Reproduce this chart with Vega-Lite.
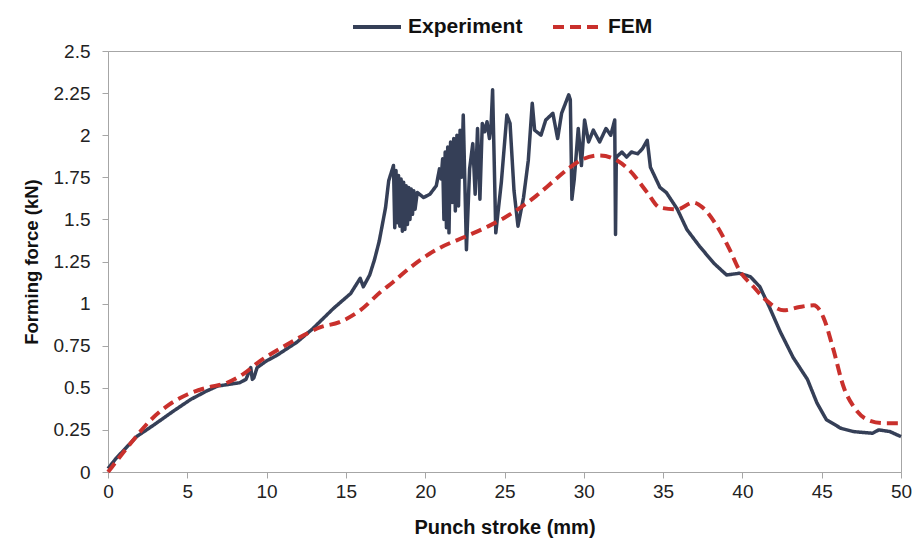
{
  "$schema": "https://vega.github.io/schema/vega-lite/v6.json",
  "autosize": "none",
  "width": 793,
  "height": 421,
  "padding": {"left": 108, "top": 51, "right": 13, "bottom": 80},
  "background": "white",
  "config": {
    "view": {"stroke": "#a6a6a6", "strokeWidth": 1},
    "font": "Liberation Sans"
  },
  "datasets": {
    "exp": [
      {"x":0,"y":0.02},{"x":0.5,"y":0.08},{"x":1.0,"y":0.13},{"x":1.8,"y":0.21},{"x":2.9,"y":0.28},{"x":4.1,"y":0.36},{"x":5.2,"y":0.43},{"x":6.2,"y":0.48},{"x":6.9,"y":0.51},{"x":7.6,"y":0.52},{"x":8.3,"y":0.53},{"x":8.7,"y":0.55},{"x":9.0,"y":0.62},{"x":9.1,"y":0.55},{"x":9.2,"y":0.56},{"x":9.4,"y":0.62},{"x":10.0,"y":0.66},{"x":10.6,"y":0.69},{"x":11.9,"y":0.77},{"x":12.9,"y":0.85},{"x":14.2,"y":0.97},{"x":15.3,"y":1.06},{"x":15.9,"y":1.15},{"x":16.1,"y":1.10},{"x":16.5,"y":1.17},{"x":16.8,"y":1.26},{"x":17.1,"y":1.37},{"x":17.5,"y":1.57},{"x":17.7,"y":1.73},{"x":18.0,"y":1.82},{"x":18.08,"y":1.45},{"x":18.16,"y":1.79},{"x":18.24,"y":1.48},{"x":18.32,"y":1.76},{"x":18.4,"y":1.46},{"x":18.48,"y":1.74},{"x":18.56,"y":1.43},{"x":18.64,"y":1.72},{"x":18.72,"y":1.44},{"x":18.8,"y":1.70},{"x":18.88,"y":1.47},{"x":18.96,"y":1.69},{"x":19.04,"y":1.50},{"x":19.12,"y":1.68},{"x":19.2,"y":1.53},{"x":19.28,"y":1.67},{"x":19.36,"y":1.56},{"x":19.5,"y":1.66},{"x":19.9,"y":1.63},{"x":20.3,"y":1.65},{"x":20.7,"y":1.70},{"x":20.9,"y":1.80},{"x":21.0,"y":1.74},{"x":21.1,"y":1.86},{"x":21.18,"y":1.50},{"x":21.26,"y":1.90},{"x":21.34,"y":1.45},{"x":21.42,"y":1.93},{"x":21.5,"y":1.42},{"x":21.6,"y":1.96},{"x":21.7,"y":1.60},{"x":21.8,"y":1.98},{"x":21.9,"y":1.55},{"x":22.0,"y":2.0},{"x":22.1,"y":1.58},{"x":22.2,"y":2.03},{"x":22.3,"y":1.75},{"x":22.4,"y":2.12},{"x":22.6,"y":1.32},{"x":22.8,"y":1.80},{"x":23.0,"y":1.95},{"x":23.15,"y":1.65},{"x":23.3,"y":2.04},{"x":23.45,"y":1.62},{"x":23.6,"y":2.07},{"x":23.75,"y":2.02},{"x":23.9,"y":2.08},{"x":24.05,"y":1.98},{"x":24.15,"y":2.05},{"x":24.25,"y":2.27},{"x":24.35,"y":1.85},{"x":24.45,"y":1.42},{"x":24.8,"y":1.72},{"x":25.15,"y":2.12},{"x":25.35,"y":2.07},{"x":25.6,"y":1.67},{"x":25.85,"y":1.46},{"x":26.2,"y":1.63},{"x":26.5,"y":1.85},{"x":26.75,"y":2.19},{"x":26.9,"y":2.03},{"x":27.3,"y":2.0},{"x":27.6,"y":2.09},{"x":28.05,"y":2.13},{"x":28.35,"y":1.98},{"x":28.6,"y":2.13},{"x":29.05,"y":2.24},{"x":29.15,"y":2.21},{"x":29.25,"y":1.62},{"x":29.4,"y":1.74},{"x":29.65,"y":2.04},{"x":29.85,"y":1.82},{"x":30.05,"y":2.09},{"x":30.3,"y":1.96},{"x":30.6,"y":2.03},{"x":31.0,"y":1.96},{"x":31.4,"y":2.04},{"x":31.7,"y":2.0},{"x":31.95,"y":2.09},{"x":32.0,"y":1.41},{"x":32.05,"y":1.87},{"x":32.4,"y":1.90},{"x":32.7,"y":1.87},{"x":33.0,"y":1.90},{"x":33.4,"y":1.89},{"x":33.7,"y":1.92},{"x":34.0,"y":1.97},{"x":34.2,"y":1.81},{"x":34.5,"y":1.75},{"x":34.8,"y":1.69},{"x":35.2,"y":1.66},{"x":35.9,"y":1.56},{"x":36.5,"y":1.44},{"x":37.3,"y":1.34},{"x":38.2,"y":1.24},{"x":39.0,"y":1.17},{"x":39.8,"y":1.18},{"x":40.5,"y":1.16},{"x":41.1,"y":1.10},{"x":41.7,"y":0.98},{"x":42.4,"y":0.83},{"x":43.2,"y":0.68},{"x":44.1,"y":0.55},{"x":44.7,"y":0.41},{"x":45.3,"y":0.31},{"x":46.2,"y":0.26},{"x":47.0,"y":0.24},{"x":48.2,"y":0.23},{"x":48.6,"y":0.25},{"x":49.3,"y":0.24},{"x":50,"y":0.21}
    ],
    "fem": [
      {"x":0,"y":0},{"x":0.5,"y":0.06},{"x":1.0,"y":0.12},{"x":1.6,"y":0.19},{"x":2.6,"y":0.30},{"x":3.7,"y":0.39},{"x":5.0,"y":0.46},{"x":6.2,"y":0.50},{"x":7.5,"y":0.53},{"x":8.5,"y":0.58},{"x":9.6,"y":0.66},{"x":10.8,"y":0.73},{"x":12.1,"y":0.80},{"x":13.4,"y":0.86},{"x":14.6,"y":0.89},{"x":15.9,"y":0.96},{"x":17.2,"y":1.07},{"x":18.0,"y":1.13},{"x":19.0,"y":1.21},{"x":19.7,"y":1.26},{"x":20.9,"y":1.33},{"x":22.6,"y":1.40},{"x":24.0,"y":1.46},{"x":25.0,"y":1.51},{"x":26.0,"y":1.57},{"x":27.0,"y":1.64},{"x":28.0,"y":1.72},{"x":29.0,"y":1.80},{"x":30.0,"y":1.86},{"x":31.0,"y":1.88},{"x":32.1,"y":1.85},{"x":32.9,"y":1.79},{"x":34.0,"y":1.66},{"x":34.8,"y":1.57},{"x":35.9,"y":1.56},{"x":36.9,"y":1.60},{"x":37.5,"y":1.57},{"x":38.4,"y":1.46},{"x":39.2,"y":1.32},{"x":39.8,"y":1.20},{"x":40.7,"y":1.10},{"x":41.5,"y":1.02},{"x":42.6,"y":0.96},{"x":43.6,"y":0.98},{"x":44.5,"y":0.99},{"x":45.1,"y":0.92},{"x":45.7,"y":0.74},{"x":46.4,"y":0.50},{"x":47.0,"y":0.39},{"x":47.9,"y":0.31},{"x":48.9,"y":0.29},{"x":50,"y":0.29}
    ]
  },
  "encoding": {
    "x": {
      "field": "x", "type": "quantitative",
      "scale": {"domain": [0, 50], "nice": false, "zero": false},
      "axis": {
        "title": "Punch stroke (mm)", "values": [0,5,10,15,20,25,30,35,40,45,50], "format": ".3~g",
        "grid": false, "domainColor": "#a6a6a6", "tickColor": "#a6a6a6", "tickSize": 6,
        "labelFlush": false,
        "labelFontSize": 19, "labelColor": "#222222", "labelPadding": 4,
        "titleFontSize": 20, "titleFontWeight": "bold", "titleColor": "#111111", "titlePadding": 16
      }
    },
    "y": {
      "field": "y", "type": "quantitative",
      "scale": {"domain": [0, 2.5], "nice": false},
      "axis": {
        "title": "Forming force (kN)", "values": [0,0.25,0.5,0.75,1,1.25,1.5,1.75,2,2.25,2.5], "format": ".3~g",
        "grid": false, "domainColor": "#a6a6a6", "tickColor": "#a6a6a6", "tickSize": 6,
        "labelFlush": false,
        "labelFontSize": 19, "labelColor": "#222222", "labelPadding": 12,
        "titleFontSize": 18.5, "titleFontWeight": "bold", "titleColor": "#111111", "titlePadding": 12
      }
    },
    "color": {
      "field": "series", "type": "nominal",
      "scale": {"domain": ["Experiment", "FEM"], "range": ["#353f57", "#c9302c"]},
      "legend": {
        "title": null, "orient": "none", "direction": "horizontal",
        "legendX": 243, "legendY": -50,
        "symbolType": "stroke", "symbolSize": 2304, "symbolStrokeWidth": 4,
        "labelFontSize": 21, "labelFontWeight": "bold", "labelColor": "#111111",
        "columnPadding": 22, "labelOffset": 5
      }
    },
    "strokeDash": {
      "field": "series", "type": "nominal",
      "scale": {"domain": ["Experiment", "FEM"], "range": [[1, 0], [11, 6]]},
      "legend": null
    }
  },
  "layer": [
    {
      "data": {"name": "exp"},
      "transform": [{"calculate": "'Experiment'", "as": "series"}],
      "mark": {"type": "line", "strokeWidth": 3.5, "strokeJoin": "round"}
    },
    {
      "data": {"name": "fem"},
      "transform": [{"calculate": "'FEM'", "as": "series"}],
      "mark": {"type": "line", "strokeWidth": 4, "interpolate": "monotone"}
    }
  ]
}
